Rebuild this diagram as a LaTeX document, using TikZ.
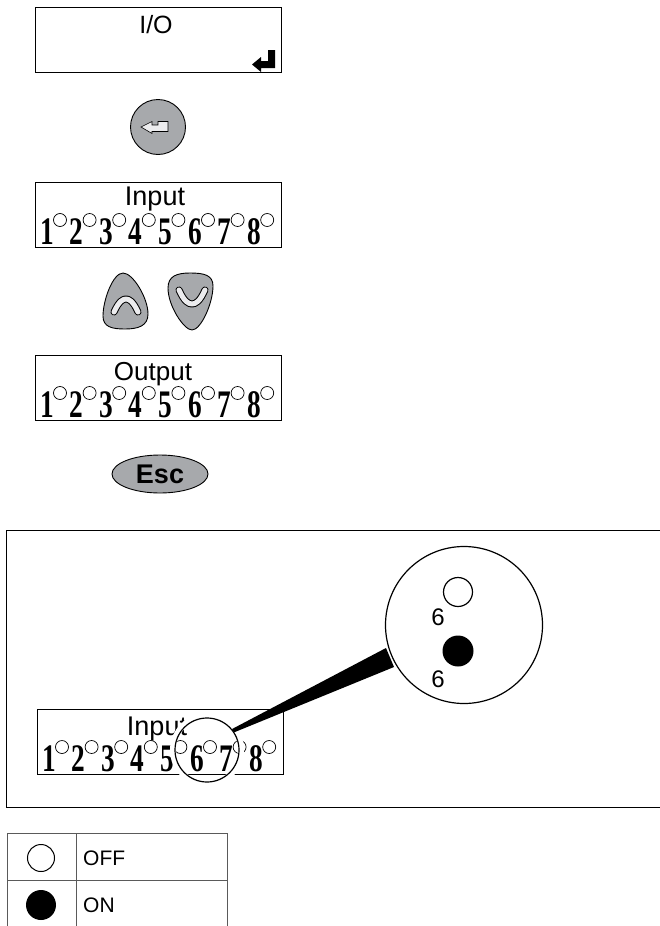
\documentclass[tikz,border=0pt]{standalone}
\usepackage{fontspec}
\usepackage{tikz}
\usetikzlibrary{shapes.geometric, calc}
\newfontfamily\lsans{Liberation Sans}
\newfontfamily\lserif{Liberation Serif}
\definecolor{keygray}{RGB}{167,169,172}
\definecolor{glyphwhite}{RGB}{236,236,238}
\definecolor{rulegray}{RGB}{90,90,90}
\tikzstyle{lcd}=[rectangle, draw=black, line width=1pt, minimum width=246pt, minimum height=65pt, inner sep=0pt, anchor=north west]
\tikzstyle{lcdtext}=[inner sep=0pt, anchor=base, font=\lsans\fontsize{27}{27}\selectfont]
\tikzstyle{digit}=[inner sep=0pt, anchor=base, font=\lserif\bfseries\fontsize{39}{39}\selectfont]
\tikzstyle{led}=[draw=black, fill=white, line width=0.7pt]
\tikzstyle{key}=[draw=black, fill=keygray, line width=0.9pt]
\tikzstyle{chevronedge}=[line width=7pt, line cap=round, line join=round, draw=black]
\tikzstyle{chevronface}=[line width=5pt, line cap=round, line join=round, draw=glyphwhite]
\tikzstyle{lensmark}=[inner sep=0pt, font=\lsans\fontsize{24}{24}\selectfont]
\tikzstyle{legendtext}=[inner sep=0pt, anchor=west, font=\lsans\fontsize{21}{21}\selectfont]

\newcommand{\ledrow}[1]{%
  \foreach \i in {1,...,8}{%
    \node[digit] (#1-d\i) at ($(#1.north west)+({12+29.6*(\i-1)},62)$) {\scalebox{0.7}[1]{\i}};
    \draw[led] ($(#1.north west)+({25+29.6*(\i-1)},38)$) circle (6.5);
  }}

\begin{document}
\begin{tikzpicture}[x=1pt, y=-1pt]
		\useasboundingbox (0,0) rectangle (660,926);
		% I/O screen
		\node (io) [lcd] at (35,7) {};
		\node [lcdtext, font=\lsans\fontsize{25}{25}\selectfont] at ($(io.north west)+(121,26)$) {I/O};
		\fill (275,50) -- (275,68) -- (261,68) -- (261,72) -- (252,64.5) -- (261,57) -- (261,61) -- (268,61) -- (268,50) -- cycle;
		
		% enter key
		\node (enter) [key, circle, minimum size=55pt, inner sep=0pt] at (158,127) {};
		\draw[fill=glyphwhite, line width=0.6pt] (141,127) -- (152,121.5) -- (152,125) -- (158,125) -- (158,121.5) -- (168,121.5) -- (168,131.5) -- (152,131.5) -- (152,133.5) -- cycle;
		
		% input screen
		\node (in) [lcd] at (35,182) {};
		\node [lcdtext] at ($(in.north west)+(120,23)$) {Input};
		\ledrow{in}
		
		% up and down keys
		\draw[key] (125,329) .. controls (112,329) and (103,327) .. (103,316) .. controls (103,300) and (113,273) .. (123,273) .. controls (133,273) and (148,298) .. (148,314) .. controls (148,326) and (138,329) .. (125,329) -- cycle;
		\draw[key] (190,273) .. controls (204,273) and (213,275) .. (213,286) .. controls (213,303) and (201,330) .. (192,330) .. controls (184,330) and (168,306) .. (168,288) .. controls (168,276) and (177,273) .. (190,273) -- cycle;
		\foreach \s in {chevronedge, chevronface}{
			\draw[\s] (114,312) .. controls (119,301) and (123,299) .. (126,299) .. controls (129,299) and (133,301) .. (138,312);
			\draw[\s] (179,290) .. controls (184,301) and (188,304) .. (192,304) .. controls (196,304) and (200,301) .. (205,290);
		}
		
		% output screen
		\node (out) [lcd] at (35,355) {};
		\node [lcdtext, font=\lsans\fontsize{26}{26}\selectfont] at ($(out.north west)+(118,25)$) {Output};
		\ledrow{out}
		
		% esc key
		\node (esc) [key, ellipse, minimum width=96pt, minimum height=38pt, inner sep=0pt, font=\lsans\bfseries\fontsize{27}{27}\selectfont] at (160,474) {Esc};
		
		% detail frame
		\draw[line width=1pt] (661,530) -- (6,530) -- (6,807) -- (661,807);
		\node (zin) [lcd] at (37,709) {};
		\node [lcdtext] at ($(zin.north west)+(120,26)$) {Input};
		\ledrow{zin}
		\draw[white, line width=6pt] (207,750) circle (34);
		\node (loupe) [circle, draw, line width=1.2pt, minimum size=64pt, inner sep=0pt] at (207,750) {};
		\fill (loupe.40) -- (386,648) -- (394,667) -- (loupe.33) -- cycle;
		\node (lens) [circle, draw, fill=white, line width=1.2pt, minimum size=157pt, inner sep=0pt] at (464,625) {};
		\node (offdot) [circle, draw, line width=1.2pt, minimum size=29pt, inner sep=0pt] at (458,592) {};
		\node [lensmark] at (438,617) {6};
		\node (ondot) [circle, fill=black, minimum size=31pt, inner sep=0pt] at (458,651) {};
		\node [lensmark] at (438,679) {6};
		
		% legend
		\draw[rulegray, line width=1pt] (7,926) -- (7,833) -- (227,833) -- (227,926) (76,833) -- (76,926) (7,880) -- (227,880);
		\node (offkey) [circle, draw, line width=1pt, minimum size=27pt, inner sep=0pt] at (41,858) {};
		\node [legendtext] at (83,858) {OFF};
		\node (onkey) [circle, fill=black, minimum size=30pt, inner sep=0pt] at (41,905) {};
		\node [legendtext] at (83,905) {ON};
\end{tikzpicture}
\end{document}
